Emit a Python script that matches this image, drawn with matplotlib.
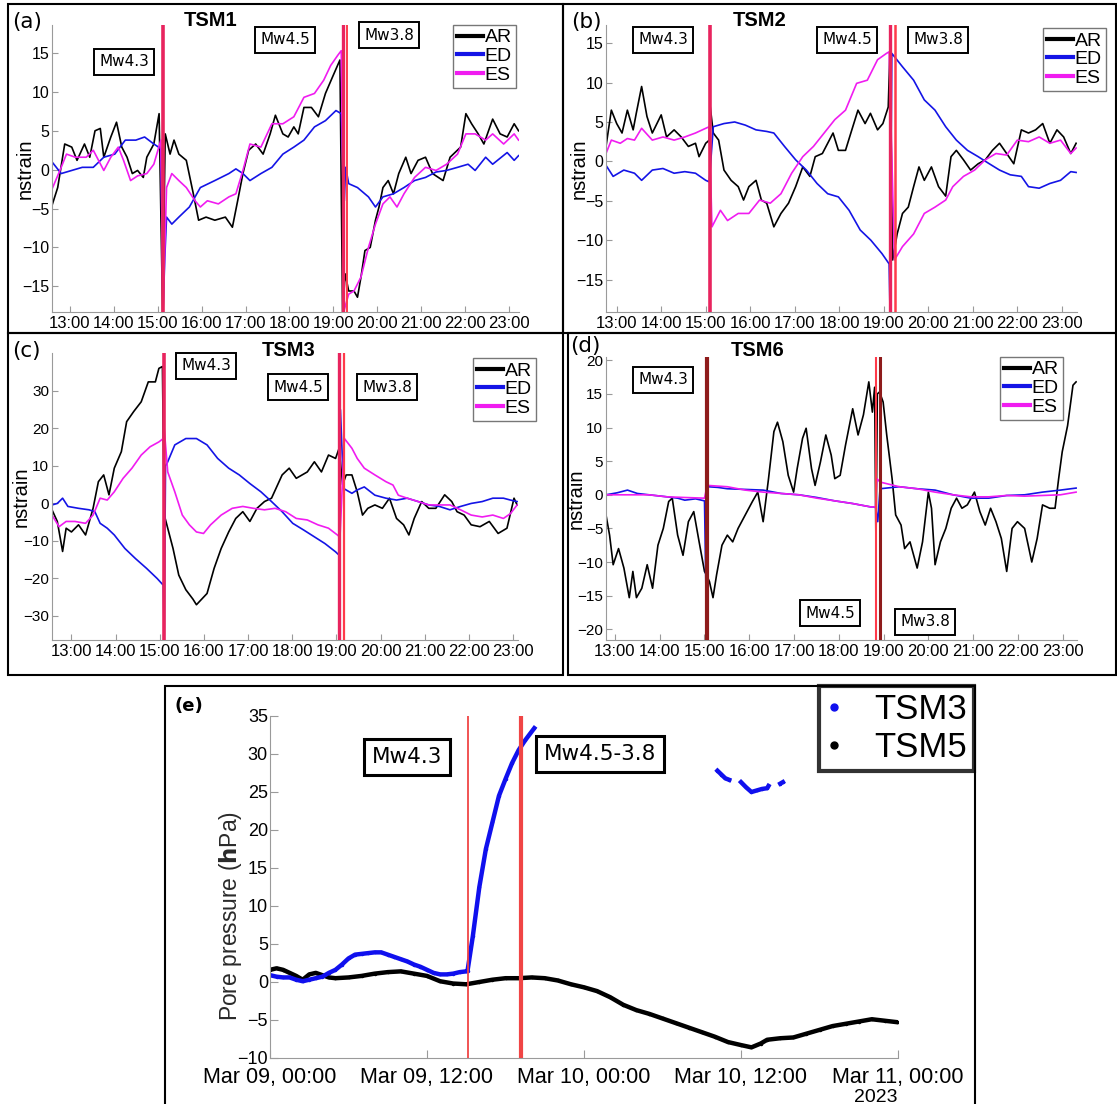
import numpy as np
import matplotlib
matplotlib.use("Agg")
import matplotlib.pyplot as plt
from matplotlib.lines import Line2D
from matplotlib.patches import Rectangle

plt.rcParams['font.family'] = ['Liberation Sans', 'DejaVu Sans']

W, H = 1117, 1104

# ---------------- DATA (hour of day, nstrain) ----------------
a_AR = [(12.59,-4.6),(12.72,-2.3),(12.88,3.3),(13.04,2.9),(13.16,1.2),(13.33,3.3),(13.45,1.6),(13.57,5.0),(13.69,5.3),(13.77,1.6),(13.93,4.2),(14.06,6.1),(14.18,2.9),(14.30,1.6),(14.42,-0.5),(14.54,-0.1),(14.67,-1.0),(14.75,1.6),(14.91,3.3),(15.03,7.2),(15.11,-18.3),(15.17,4.6),(15.28,2.0),(15.37,3.8),(15.48,2.0),(15.65,1.2),(15.81,-3.1),(15.93,-6.5),(16.10,-6.1),(16.30,-6.5),(16.54,-6.1),(16.70,-7.4),(16.82,-4.0),(16.94,-0.5),(17.07,2.5),(17.23,3.3),(17.40,2.0),(17.56,4.6),(17.68,7.0),(17.85,4.6),(17.97,4.2),(18.10,5.5),(18.20,4.6),(18.33,8.0),(18.50,8.0),(18.66,6.8),(18.82,9.8),(18.98,11.9),(19.15,14.1),(19.21,-18.3),(19.27,-13.4),(19.35,-15.6),(19.47,-15.6),(19.55,-16.4),(19.63,-13.8),(19.72,-10.4),(19.84,-10.0),(19.96,-6.5),(20.04,-4.8),(20.13,-2.3),(20.25,-1.4),(20.37,-3.1),(20.49,-0.5),(20.65,1.6),(20.77,-0.5),(20.93,1.2),(21.10,1.6),(21.26,-0.5),(21.50,-1.4),(21.66,1.6),(21.90,2.9),(22.02,7.2),(22.15,5.9),(22.30,4.6),(22.43,3.3),(22.63,6.5),(22.80,4.6),(22.96,4.2),(23.12,5.9),(23.22,5.0)]
a_ED = [(12.59,1.0),(12.80,-0.5),(13.04,-0.1),(13.28,0.3),(13.53,0.3),(13.77,1.6),(14.02,2.0),(14.26,3.8),(14.50,3.8),(14.70,4.2),(14.91,3.3),(15.07,2.7),(15.12,-18.3),(15.16,-11.3),(15.20,-6.1),(15.32,-7.0),(15.48,-6.1),(15.72,-4.8),(15.97,-2.3),(16.30,-1.4),(16.62,-0.5),(16.78,0.1),(16.94,-0.5),(17.10,-1.4),(17.35,-0.5),(17.60,0.3),(17.85,2.0),(18.10,2.9),(18.33,3.8),(18.57,5.5),(18.82,6.3),(19.06,7.6),(19.18,7.2),(19.25,-4.0),(19.28,0.3),(19.35,-1.8),(19.55,-2.3),(19.80,-3.5),(19.96,-4.8),(20.13,-3.5),(20.37,-3.1),(20.61,-2.3),(20.85,-1.4),(21.10,-1.0),(21.34,-0.3),(21.58,-0.1),(21.83,0.3),(22.07,0.7),(22.23,-0.1),(22.47,1.6),(22.63,0.7),(22.96,2.2),(23.12,1.2),(23.22,1.8)]
a_ES = [(12.59,-2.5),(12.80,0.3),(12.92,2.0),(13.12,1.6),(13.37,1.6),(13.53,2.5),(13.77,-0.1),(13.93,1.6),(14.10,2.9),(14.22,1.2),(14.38,-1.4),(14.54,-0.8),(14.75,-0.5),(14.91,0.7),(15.07,3.8),(15.12,-18.0),(15.20,-2.3),(15.32,-0.5),(15.48,-1.4),(15.65,-2.3),(15.85,-4.0),(15.97,-4.8),(16.13,-4.0),(16.38,-4.4),(16.62,-3.5),(16.78,-3.1),(16.94,-0.1),(17.10,3.3),(17.35,2.9),(17.60,5.9),(17.85,5.9),(18.10,6.8),(18.33,9.3),(18.57,9.8),(18.78,11.5),(18.94,13.4),(19.10,14.7),(19.18,15.3),(19.25,-18.0),(19.35,-16.0),(19.47,-15.6),(19.63,-13.8),(19.80,-10.0),(19.96,-7.0),(20.13,-4.4),(20.29,-3.5),(20.45,-4.8),(20.61,-3.1),(20.85,-1.0),(21.10,0.3),(21.34,-0.1),(21.58,0.7),(21.83,2.0),(22.02,4.6),(22.23,4.6),(22.47,3.8),(22.63,4.6),(22.88,3.3),(23.12,4.6),(23.22,3.8)]

b_AR = [(12.76,1.9),(12.88,6.5),(13.00,4.8),(13.12,3.6),(13.24,6.5),(13.37,4.0),(13.44,6.1),(13.56,9.5),(13.68,5.7),(13.80,3.6),(14.00,5.9),(14.12,3.1),(14.29,4.0),(14.45,3.1),(14.61,1.9),(14.77,2.3),(14.85,0.6),(15.00,2.3),(15.08,2.7),(15.10,7.0),(15.17,3.6),(15.29,2.7),(15.41,-1.1),(15.57,-2.4),(15.73,-3.2),(15.85,-4.9),(15.97,-3.2),(16.13,-2.4),(16.25,-4.9),(16.37,-5.3),(16.53,-8.3),(16.69,-6.6),(16.86,-5.3),(17.02,-3.2),(17.18,-0.7),(17.34,-1.9),(17.46,0.6),(17.62,1.0),(17.74,2.3),(17.86,3.6),(17.98,1.4),(18.14,1.4),(18.26,3.6),(18.42,6.5),(18.58,4.8),(18.70,6.1),(18.86,4.0),(18.98,4.8),(19.10,6.9),(19.14,14.2),(19.20,-12.5),(19.30,-9.2),(19.42,-6.6),(19.55,-5.8),(19.67,-3.2),(19.79,-0.7),(19.91,-2.4),(20.07,-0.7),(20.23,-3.2),(20.39,-4.4),(20.51,0.6),(20.63,1.4),(20.79,0.2),(20.95,-1.1),(21.12,-0.3),(21.28,0.2),(21.44,1.4),(21.60,2.3),(21.76,1.0),(21.92,-0.3),(22.09,4.0),(22.25,3.6),(22.41,4.0),(22.57,4.8),(22.73,2.3),(22.89,4.0),(23.04,3.1),(23.20,1.0),(23.32,2.3)]
b_ED = [(12.76,-0.5),(12.92,-1.9),(13.16,-1.1),(13.40,-1.5),(13.56,-2.4),(13.80,-1.1),(14.04,-0.9),(14.29,-1.5),(14.53,-1.3),(14.77,-1.5),(15.00,-2.4),(15.08,-2.6),(15.17,4.4),(15.41,4.8),(15.65,5.0),(15.89,4.6),(16.13,4.0),(16.37,3.8),(16.53,3.6),(16.77,1.9),(17.02,0.2),(17.26,-1.1),(17.50,-2.8),(17.74,-4.1),(17.98,-4.5),(18.22,-6.2),(18.47,-8.7),(18.71,-10.0),(18.96,-11.7),(19.12,-13.0),(19.14,-19.1),(19.18,13.7),(19.42,12.0),(19.67,10.3),(19.91,7.8),(20.15,6.5),(20.39,4.4),(20.63,2.7),(20.88,1.4),(21.12,0.6),(21.37,-0.3),(21.60,-1.1),(21.84,-1.7),(22.09,-1.9),(22.25,-3.2),(22.49,-3.4),(22.73,-2.8),(22.97,-2.4),(23.20,-1.3),(23.32,-1.4)]
b_ES = [(12.76,1.0),(12.88,2.7),(13.08,2.3),(13.24,2.9),(13.40,2.7),(13.56,4.2),(13.80,2.7),(14.04,3.1),(14.29,2.7),(14.53,3.1),(14.77,3.6),(15.00,4.2),(15.08,4.4),(15.14,-8.3),(15.33,-6.2),(15.49,-7.5),(15.73,-6.6),(15.97,-6.6),(16.21,-4.9),(16.45,-5.3),(16.69,-4.1),(16.93,-1.5),(17.18,0.6),(17.42,1.9),(17.66,3.6),(17.90,5.3),(18.14,6.5),(18.39,9.9),(18.63,10.3),(18.86,12.9),(19.06,13.7),(19.12,13.9),(19.24,-12.5),(19.42,-10.8),(19.67,-9.2),(19.91,-6.6),(20.15,-5.8),(20.39,-4.9),(20.55,-3.2),(20.79,-1.9),(21.04,-1.1),(21.28,0.2),(21.52,1.0),(21.76,0.8),(22.00,2.7),(22.25,2.5),(22.49,3.1),(22.73,2.3),(22.97,2.7),(23.20,1.0),(23.32,1.7)]

c_AR = [(12.56,-1.7),(12.68,-4.8),(12.80,-12.8),(12.88,-6.6),(13.00,-7.6),(13.16,-5.7),(13.32,-8.4),(13.49,-1.3),(13.61,5.8),(13.73,7.6),(13.85,2.3),(13.97,9.4),(14.13,13.8),(14.25,21.8),(14.41,24.5),(14.58,27.1),(14.74,32.4),(14.90,32.4),(14.98,36.0),(15.06,36.5),(15.10,-3.0),(15.18,-6.6),(15.30,-12.0),(15.43,-19.1),(15.59,-23.0),(15.75,-25.5),(15.83,-27.0),(15.95,-25.5),(16.07,-24.0),(16.23,-17.3),(16.39,-12.0),(16.56,-7.6),(16.72,-4.0),(16.88,-2.2),(17.04,-4.8),(17.20,-1.3),(17.37,0.5),(17.53,1.4),(17.77,7.6),(17.93,9.4),(18.09,6.7),(18.34,8.4),(18.50,11.1),(18.66,8.4),(18.82,12.9),(18.98,12.0),(19.06,14.7),(19.14,5.0),(19.22,7.6),(19.35,7.6),(19.47,3.1),(19.59,-3.1),(19.71,-1.3),(19.87,-0.4),(20.04,-1.3),(20.20,1.4),(20.36,-4.0),(20.52,-5.7),(20.64,-8.4),(20.76,-4.0),(20.93,0.5),(21.09,-1.3),(21.25,-1.3),(21.45,2.3),(21.61,0.5),(21.73,-2.2),(21.89,-3.1),(22.05,-5.7),(22.25,-6.2),(22.46,-4.8),(22.66,-8.0),(22.86,-6.6),(23.02,1.4),(23.09,-0.4)]
c_ED = [(12.56,-0.4),(12.68,0.0),(12.80,1.4),(12.92,-0.8),(13.16,-1.3),(13.40,-1.7),(13.53,-2.2),(13.65,-5.3),(13.81,-6.6),(13.97,-8.4),(14.21,-12.0),(14.45,-14.7),(14.70,-17.3),(14.94,-20.0),(15.08,-21.8),(15.10,-36.4),(15.13,10.0),(15.18,11.1),(15.34,15.6),(15.59,17.3),(15.83,17.3),(16.07,15.6),(16.31,12.0),(16.56,9.4),(16.80,7.6),(17.04,5.3),(17.29,3.1),(17.53,0.5),(17.77,-2.2),(18.01,-5.3),(18.26,-7.1),(18.50,-8.9),(18.74,-10.7),(18.98,-12.9),(19.06,-13.8),(19.09,25.0),(19.16,4.0),(19.35,2.7),(19.47,3.6),(19.63,4.4),(19.87,2.2),(20.12,1.4),(20.36,0.9),(20.60,1.4),(20.85,0.5),(21.09,-0.4),(21.33,-0.8),(21.57,-1.7),(21.81,-0.8),(22.05,0.0),(22.30,0.5),(22.54,1.4),(22.78,1.4),(22.94,0.9),(23.09,0.5)]
c_ES = [(12.56,-3.1),(12.72,-6.2),(12.88,-4.8),(13.08,-4.8),(13.32,-5.3),(13.49,-3.1),(13.65,1.4),(13.81,0.9),(13.97,3.1),(14.17,6.7),(14.37,9.4),(14.58,12.9),(14.78,15.1),(14.98,16.4),(15.08,17.3),(15.10,20.0),(15.18,8.4),(15.34,3.1),(15.51,-3.1),(15.67,-5.7),(15.83,-7.6),(15.99,-8.0),(16.15,-5.7),(16.39,-3.1),(16.64,-1.3),(16.88,-0.8),(17.12,-1.3),(17.37,-1.7),(17.61,-1.3),(17.85,-2.2),(18.09,-4.0),(18.34,-4.4),(18.58,-5.7),(18.82,-6.6),(19.02,-8.4),(19.08,-9.0),(19.18,17.3),(19.35,14.7),(19.47,12.0),(19.63,9.4),(19.87,7.6),(20.12,5.8),(20.28,4.9),(20.40,2.2),(20.60,1.4),(20.85,0.5),(21.09,-0.4),(21.33,-0.4),(21.57,-0.4),(21.81,-1.7),(22.05,-3.1),(22.30,-3.6),(22.54,-3.1),(22.78,-4.0),(22.94,-2.7),(23.09,-0.4)]

d_AR = [(12.80,-3.0),(12.88,-6.0),(12.96,-10.4),(13.08,-8.0),(13.20,-10.9),(13.32,-15.3),(13.40,-11.4),(13.48,-15.3),(13.60,-13.9),(13.72,-10.4),(13.84,-13.9),(13.96,-7.5),(14.08,-5.0),(14.20,-1.0),(14.28,-0.5),(14.40,-6.0),(14.52,-9.0),(14.64,-4.0),(14.76,-2.5),(14.88,-7.0),(15.00,-11.4),(15.05,-12.0),(15.11,-12.9),(15.19,-15.3),(15.27,-11.9),(15.39,-7.5),(15.51,-6.0),(15.63,-7.0),(15.75,-5.0),(15.91,-3.0),(16.07,-1.0),(16.19,0.4),(16.31,-4.0),(16.43,2.4),(16.55,9.4),(16.63,10.8),(16.75,7.9),(16.87,2.9),(16.99,0.4),(17.07,3.9),(17.19,8.4),(17.27,9.9),(17.39,3.9),(17.47,1.4),(17.59,4.9),(17.71,8.9),(17.83,5.9),(17.91,2.4),(18.03,2.9),(18.15,7.4),(18.31,12.8),(18.43,8.9),(18.55,11.9),(18.67,16.8),(18.75,12.3),(18.80,16.0),(18.83,-8.0),(18.86,15.0),(18.91,15.3),(18.99,13.8),(19.07,8.9),(19.19,2.4),(19.27,-3.0),(19.39,-4.5),(19.47,-8.0),(19.59,-7.0),(19.75,-10.9),(19.87,-7.0),(20.00,0.4),(20.07,-2.0),(20.15,-10.4),(20.27,-7.0),(20.39,-5.0),(20.51,-2.0),(20.63,-0.5),(20.75,-2.0),(20.87,-1.5),(21.03,0.4),(21.15,-2.5),(21.27,-4.5),(21.39,-2.0),(21.51,-4.0),(21.63,-6.5),(21.75,-11.4),(21.87,-5.0),(21.99,-4.0),(22.15,-5.0),(22.31,-10.0),(22.43,-6.5),(22.55,-1.5),(22.71,-2.0),(22.83,-2.0),(22.91,2.4),(22.99,6.4),(23.11,10.3),(23.23,16.3),(23.30,16.8)]
d_ED = [(12.80,0.0),(13.05,0.3),(13.28,0.7),(13.50,0.2),(13.76,0.0),(14.16,-0.3),(14.40,-0.5),(14.56,-0.8),(14.80,-0.6),(15.00,-0.9),(15.05,-21.5),(15.08,1.2),(15.30,1.1),(15.51,0.9),(15.91,0.8),(16.31,0.7),(16.71,0.2),(17.11,0.0),(17.51,-0.4),(17.91,-0.9),(18.31,-1.3),(18.71,-1.8),(18.82,-1.8),(18.87,-4.0),(18.92,0.9),(19.35,1.2),(19.75,0.9),(20.15,0.7),(20.55,0.0),(20.95,-0.5),(21.35,-0.5),(21.75,-0.1),(22.15,0.0),(22.55,0.4),(22.95,0.7),(23.30,1.0)]
d_ES = [(12.80,0.0),(13.28,0.0),(13.76,0.0),(14.16,-0.3),(14.56,-0.4),(15.00,-0.5),(15.06,1.4),(15.51,1.2),(15.91,0.7),(16.31,0.4),(16.71,0.2),(17.11,0.0),(17.51,-0.5),(17.91,-0.9),(18.31,-1.3),(18.71,-1.8),(18.82,-1.8),(18.85,2.4),(18.92,1.9),(19.35,1.2),(19.75,0.9),(20.15,0.4),(20.55,0.0),(20.95,-0.3),(21.35,-0.3),(21.75,-0.1),(22.15,-0.2),(22.55,-0.1),(22.95,0.0),(23.30,0.4)]

# event times (hour of day) per panel
a_events = [15.117, 19.21, 19.31]
b_events = [15.10, 19.13, 19.26]
c_events = [15.085, 19.06, 19.16]
d_events = [15.05, 18.82, 18.92]

# Panel (e): hours since Mar 09 00:00, pore pressure hPa
tsm3_main = [(0.0,0.9),(0.5,0.7),(1.0,0.6),(1.5,0.6),(2.0,0.3),(2.5,0.1),(3.0,0.3),(3.5,0.5),(4.0,0.7),(4.5,1.2),(5.0,1.6),(5.5,2.3),(6.0,3.1),(6.5,3.6),(7.0,3.7),(7.5,3.8),(8.0,3.9),(8.5,3.9),(9.0,3.6),(9.5,3.3),(10.0,3.0),(10.5,2.7),(11.0,2.3),(11.5,2.0),(12.0,1.6),(12.5,1.2),(13.0,1.0),(13.5,1.0),(14.0,1.1),(14.5,1.3),(15.0,1.4),(15.1,1.5),(15.5,6.0),(16.0,12.5),(16.5,17.5),(17.0,21.0),(17.5,24.5),(18.0,26.7),(18.5,28.8),(19.0,30.5),(19.5,31.8),(20.2,33.4)]
tsm3_late1 = [(34.2,27.8),(34.5,27.3),(34.8,26.8),(35.1,26.6)]
tsm3_late2 = [(36.0,26.3),(36.4,25.6),(36.8,25.0),(37.2,25.2),(37.6,25.4),(38.0,25.5),(38.1,25.8)]
tsm3_late3 = [(39.0,26.1),(39.2,26.3)]
tsm5 = [(0,1.6),(0.5,1.8),(1.0,1.6),(1.5,1.2),(2.0,0.8),(2.5,0.3),(3.0,1.0),(3.5,1.2),(4.0,0.9),(4.5,0.6),(5.0,0.5),(6.0,0.6),(7.0,0.8),(8.0,1.1),(9.0,1.3),(10.0,1.4),(11.0,1.1),(12.0,0.8),(13.0,0.1),(14.0,-0.2),(15.0,-0.3),(16.0,0.0),(17.0,0.3),(18.0,0.5),(19.0,0.5),(20.0,0.6),(21.0,0.5),(22.0,0.2),(23.0,-0.3),(24.0,-0.7),(25.0,-1.2),(26.0,-2.0),(27.0,-3.0),(28.0,-3.7),(29.0,-4.2),(30.0,-4.8),(31.0,-5.4),(32.0,-6.0),(33.0,-6.6),(34.0,-7.2),(35.0,-7.9),(36.0,-8.3),(36.8,-8.6),(37.5,-8.1),(38.0,-7.6),(39.0,-7.4),(40.0,-7.3),(41.0,-6.8),(42.0,-6.3),(43.0,-5.8),(44.0,-5.5),(45.0,-5.2),(46.0,-4.9),(47.0,-5.1),(48.0,-5.3)]
e_events = [15.1, 19.17]
e_xticks = [0, 12, 24, 36, 48]
e_xlabels = ['Mar 09, 00:00', 'Mar 09, 12:00', 'Mar 10, 00:00', 'Mar 10, 12:00', 'Mar 11, 00:00']

hour_ticks = list(range(13, 24))
hour_labels = [f'{h}:00' for h in hour_ticks]

C_AR, C_ED, C_ES = 'black', '#1414e6', '#f01cf0'

# ---------------- FIGURE ----------------
fig = plt.figure(figsize=(W/100, H/100), dpi=100)

def fx(x):
    return x / W

def fy(y):
    return 1 - y / H

def add_ax(l, t, r, b):
    return fig.add_axes([fx(l), fy(b), (r - l) / W, (b - t) / H])

def box(l, t, r, b, lw=1.5):
    fig.add_artist(Rectangle((fx(l), fy(b)), (r - l) / W, (b - t) / H,
                             transform=fig.transFigure, fill=False, ec='black', lw=lw))

def style(ax, xsize=12, ysize=11.5, xpad=3, ypad=3):
    for s in ['top', 'right']:
        ax.spines[s].set_visible(False)
    for s in ['left', 'bottom']:
        ax.spines[s].set_color('#9a9a9a')
    ax.tick_params(direction='in', length=4, color='#9a9a9a')
    ax.tick_params(axis='x', labelsize=xsize, pad=xpad)
    ax.tick_params(axis='y', labelsize=ysize, pad=ypad)

def mbox(x, y, s, size=11, lw=1.4, pad=0.35):
    fig.text(fx(x), fy(y), s, ha='center', va='center', fontsize=size, family='DejaVu Sans',
             bbox=dict(boxstyle=f'square,pad={pad}', fc='white', ec='black', lw=lw))

def strain_panel(rect, xl, yl, yticks, ar, ed, es, events, ev_styles, label, lpos, title, tpos, legpos,
                 ysize=11.5, ylab_off=27):
    ax = add_ax(*rect)
    for data, c in [(ar, C_AR), (ed, C_ED), (es, C_ES)]:
        t, v = zip(*data)
        ax.plot(t, v, color=c, lw=1.2)
    for ev, (c, lw) in zip(events, ev_styles):
        ax.axvline(ev, color=c, lw=lw, zorder=5)
    ax.set_xlim(*xl)
    ax.set_ylim(*yl)
    ax.set_xticks(hour_ticks)
    ax.set_xticklabels(hour_labels)
    ax.set_yticks(yticks)
    style(ax, ysize=ysize, ypad=2)
    fig.text(fx(rect[0] - ylab_off), fy((rect[1] + rect[3]) / 2), 'nstrain', fontsize=14.5,
             rotation=90, ha='center', va='center')
    fig.text(fx(lpos[0]), fy(lpos[1]), label, fontsize=15.5, family='DejaVu Sans', ha='left', va='center')
    fig.text(fx(tpos[0]), fy(tpos[1]), title, fontsize=14.5, fontweight='bold', ha='center', va='center')
    handles = [Line2D([], [], color=C_AR, lw=3), Line2D([], [], color=C_ED, lw=3),
               Line2D([], [], color=C_ES, lw=3)]
    leg = ax.legend(handles, ['AR', 'ED', 'ES'], loc='upper left',
                    bbox_to_anchor=(fx(legpos[0]), fy(legpos[1])), bbox_transform=fig.transFigure,
                    fontsize=14, frameon=True, fancybox=False, handlelength=1.35, handletextpad=0.08,
                    borderpad=0.2, labelspacing=0.05, borderaxespad=0)
    leg.get_frame().set_edgecolor('#555555')
    leg.get_frame().set_linewidth(1.0)
    return ax

# panel borders
box(8, 4, 563, 333)
box(563, 4, 1116, 333)
box(8, 333, 563, 675)
box(568, 333, 1116, 675)
box(165, 686, 975, 1110)

red = '#ff3a4a'
pink = '#e8245e'
dark = '#8e1b1b'

strain_panel((52, 25, 519, 312), (12.59, 23.23), (-18.3, 18.6), [-15, -10, -5, 0, 5, 10, 15],
             a_AR, a_ED, a_ES, a_events, [(pink, 2.6), (pink, 2.4), (red, 1.4)],
             '(a)', (12, 22), 'TSM1', (211, 21), (453, 25))
mbox(124, 62, 'Mw4.3'); mbox(285, 40, 'Mw4.5'); mbox(389, 35, 'Mw3.8')

strain_panel((606, 25, 1077, 312), (12.76, 23.34), (-19.1, 17.3), [-15, -10, -5, 0, 5, 10, 15],
             b_AR, b_ED, b_ES, b_events, [(pink, 2.6), (pink, 2.4), (red, 1.8)],
             '(b)', (571, 22), 'TSM2', (760, 21), (1043, 28))
mbox(663, 40, 'Mw4.3'); mbox(847, 40, 'Mw4.5'); mbox(938, 40, 'Mw3.8')

strain_panel((52, 353, 518, 640), (12.56, 23.11), (-36.4, 40.1), [-30, -20, -10, 0, 10, 20, 30],
             c_AR, c_ED, c_ES, c_events, [(pink, 2.6), (pink, 2.4), (red, 1.6)],
             '(c)', (12, 351), 'TSM3', (289, 350), (473, 358), ysize=11, ylab_off=31)
mbox(206, 366, 'Mw4.3'); mbox(298, 387, 'Mw4.5'); mbox(387, 387, 'Mw3.8')

strain_panel((606, 357, 1077, 640), (12.80, 23.32), (-21.6, 20.5), [-20, -15, -10, -5, 0, 5, 10, 15, 20],
             d_AR, d_ED, d_ES, d_events, [(dark, 3.0), (red, 1.5), (dark, 2.2)],
             '(d)', (570, 346), 'TSM6', (758, 350), (1000, 357), ysize=11, ylab_off=30)
mbox(663, 380, 'Mw4.3'); mbox(830, 613, 'Mw4.5'); mbox(925, 622, 'Mw3.8')

# ---------------- panel (e) ----------------
ax = add_ax(270, 716, 898, 1058)
t, v = zip(*tsm5)
ax.plot(t, v, color='black', lw=3.2, marker='.', ms=3)
for seg in [tsm3_main, tsm3_late1, tsm3_late2, tsm3_late3]:
    t, v = zip(*seg)
    ax.plot(t, v, color='#1010ee', lw=3.2, marker='.', ms=3)
ax.axvline(e_events[0], color='#f04545', lw=1.3, zorder=5)
ax.axvline(e_events[1], color='#f04545', lw=3.0, zorder=5)
ax.set_xlim(0, 48)
ax.set_ylim(-10, 35)
ax.set_xticks(e_xticks)
ax.set_xticklabels(e_xlabels)
ax.set_yticks(list(range(-10, 36, 5)))
style(ax, xsize=15.5, ysize=13, xpad=6.5, ypad=1.5)
ax.tick_params(length=6)
fig.text(fx(230), fy(916), r'Pore pressure ($\mathbf{h}$Pa)', fontsize=16.5, color='#2a2a2a',
         rotation=90, ha='center', va='center')
fig.text(fx(876), fy(1097), '2023', fontsize=14, ha='center', va='center')
fig.text(fx(174), fy(706), '(e)', fontsize=13, fontweight='bold', family='DejaVu Sans', ha='left', va='center')
mbox(407, 757, 'Mw4.3', size=15.5, lw=2.2, pad=0.35)
mbox(600, 754, 'Mw4.5-3.8', size=15.5, lw=2.2, pad=0.35)
eh = [Line2D([], [], color='#1010ee', marker='o', ls='none', ms=5),
      Line2D([], [], color='black', marker='o', ls='none', ms=5)]
leg = ax.legend(eh, ['TSM3', 'TSM5'], loc='upper right', bbox_to_anchor=(fx(974), fy(686)),
                bbox_transform=fig.transFigure, fontsize=25, frameon=True, fancybox=False,
                handlelength=0.5, handletextpad=0.9, borderpad=0.2, labelspacing=0.15, borderaxespad=0)
leg.get_frame().set_edgecolor('black')
leg.get_frame().set_linewidth(3)

fig.savefig('out.png', dpi=100)
